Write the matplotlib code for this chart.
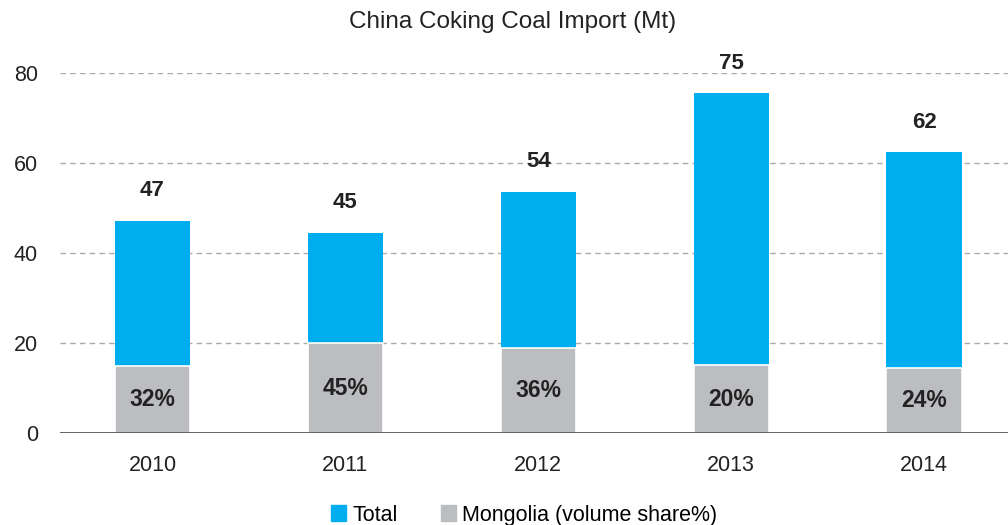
import matplotlib
matplotlib.use('Agg')
import matplotlib.pyplot as plt
import numpy as np
from matplotlib.patches import Patch

plt.rcParams['font.family'] = ['Liberation Sans', 'DejaVu Sans']

# data
years = ['2010', '2011', '2012', '2013', '2014']
total = [47.2, 44.5, 53.6, 75.5, 62.4]
mongolia = [14.8, 20.0, 18.9, 15.1, 14.5]
total_labels = ['47', '45', '54', '75', '62']
share_labels = ['32%', '45%', '36%', '20%', '24%']

blue = '#00aeef'
grey = '#bcbdc0'

fig = plt.figure(figsize=(10.08, 5.25), dpi=100)
ax = fig.add_axes([0.0595, 0.175, 0.9405, 0.686])

x = np.arange(len(years))
w = 0.39
ax.bar(x, total, w, color=blue, zorder=2)
ax.bar(x, mongolia, w, color=grey, edgecolor='white', linewidth=1.2, zorder=3)

for i in range(len(years)):
    ax.annotate(total_labels[i], (x[i], total[i]), xytext=(0, 14), textcoords='offset points',
                ha='center', va='bottom', fontsize=16, fontweight='bold', color='#222222',
                annotation_clip=False, zorder=5)
    ax.text(x[i], mongolia[i] / 2, share_labels[i], ha='center', va='center',
            fontsize=16.5, fontweight='bold', color='#222222', zorder=4)

ax.set_xlim(-0.48, 4.435)
ax.set_ylim(0, 80)
ax.set_yticks([0, 20, 40, 60, 80])
ax.set_xticks(x)
ax.set_xticklabels(years)

for y in [20, 40, 60, 80]:
    ax.axhline(y, color='#aaaaaa', lw=1, ls=(0, (4, 3)), zorder=1)
ax.axhline(0, color='#555555', lw=1.3, zorder=4)

for s in ax.spines.values():
    s.set_visible(False)
ax.tick_params(axis='both', length=0, labelsize=15.5, colors='#222222')
ax.tick_params(axis='y', pad=16)
ax.tick_params(axis='x', pad=16)

fig.text(0.508, 0.958, 'China Coking Coal Import (Mt)', ha='center', va='center',
         fontsize=17.5, color='#222222')

handles = [Patch(color=blue, label='Total'), Patch(color=grey, label='Mongolia (volume share%)')]
fig.legend(handles=handles, loc='center', bbox_to_anchor=(0.52, 0.019), ncol=2, frameon=False,
           fontsize=15.5, handlelength=0.7, handleheight=0.7, handletextpad=0.3,
           columnspacing=2.0, borderaxespad=0, borderpad=0)

fig.savefig('out.png', dpi=100)
